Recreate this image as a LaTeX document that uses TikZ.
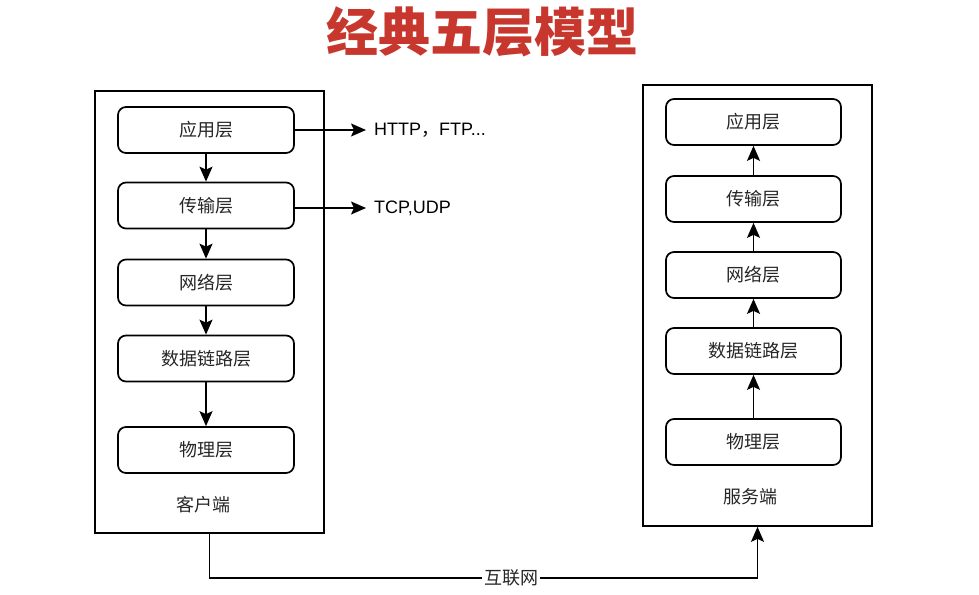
\documentclass[tikz,border=0pt]{standalone}
\usepackage{fontspec}
\setmainfont{Liberation Sans}
\newfontfamily\cjk{Noto Sans CJK SC}
\usetikzlibrary{arrows.meta}

\begin{document}
\begin{tikzpicture}[x=1pt, y=-1pt,
    layer/.style={draw, line width=1.7pt, rounded corners=8pt, minimum width=176pt,
      minimum height=46pt, font=\cjk\fontsize{18}{21}\selectfont, text=black!85},
    outer/.style={draw, line width=1.7pt, minimum width=229pt, minimum height=442pt},
    tag/.style={font=\cjk\fontsize{18}{21}\selectfont, text=black!85},
    proto/.style={anchor=west, inner sep=0pt, inner xsep=8pt, font=\fontsize{18}{21}\selectfont},
    link/.style={line width=1.7pt, -{Stealth[length=15pt, width=13pt, inset=3pt]}}]
      \useasboundingbox (0, 0) rectangle (979, 594);
      \node[font=\cjk\bfseries\fontsize{52}{56}\selectfont, text={rgb,255:red,200;green,55;blue,45}] (title) at (482, 32) {经典五层模型};
      % client side
      \node[outer] (client) at (209.5, 312) {};
        \node[layer] (app1) at (206, 130) {应用层};
        \node[layer] (trans1) at (206, 205.5) {传输层};
        \node[layer] (net1) at (206, 282.5) {网络层};
        \node[layer] (link1) at (206, 358.5) {数据链路层};
        \node[layer] (phy1) at (206, 450) {物理层};
        \node[tag] (clientlbl) at (203, 505) {客户端};
      \node[proto] (http) at (366, 130) {HTTP{\cjk ，}FTP...};
      \node[proto] (tcp) at (366, 208) {TCP,UDP};
      % server side
      \node[outer, minimum height=441pt] (server) at (757.5, 305.5) {};
        \node[layer, minimum width=175pt] (app2) at (753.5, 122) {应用层};
        \node[layer, minimum width=175pt] (trans2) at (753.5, 199) {传输层};
        \node[layer, minimum width=175pt] (net2) at (753.5, 275) {网络层};
        \node[layer, minimum width=175pt] (link2) at (753.5, 351) {数据链路层};
        \node[layer, minimum width=175pt] (phy2) at (753.5, 442) {物理层};
        \node[tag] (serverlbl) at (750, 497) {服务端};
      % arrows
      \draw[link] (app1) -- (trans1);
      \draw[link] (trans1) -- (net1);
      \draw[link] (net1) -- (link1);
      \draw[link] (link1) -- (phy1);
      \draw[link] (app1.east) -- (http.west);
      \draw[link] (trans1.east |- tcp) -- (tcp.west);
      \draw[link] (phy2) -- (link2);
      \draw[link] (link2) -- (net2);
      \draw[link] (net2) -- (trans2);
      \draw[link] (trans2) -- (app2);
      % internet
      \node[tag, fill=white, inner sep=2pt] (inet) at (511, 578) {互联网};
      \draw[line width=1.7pt] (client.south) |- (inet.west);
      \draw[link] (inet.east) -| (server.south);
    \end{tikzpicture}
\end{document}
